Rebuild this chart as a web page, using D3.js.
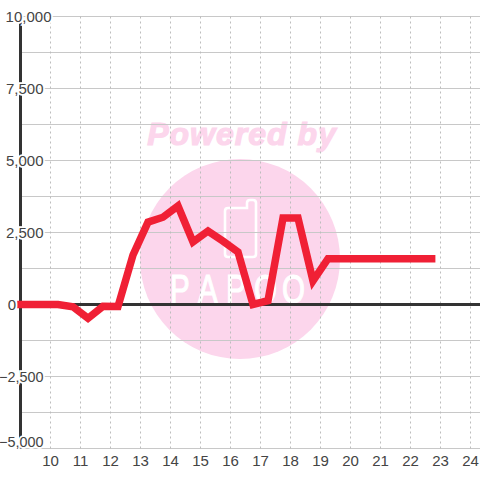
<!DOCTYPE html>
<html><head><meta charset="utf-8">
<style>html,body{margin:0;padding:0;background:#fff}svg{display:block}text{font-family:"Liberation Sans",Arial,sans-serif}</style>
<script src="https://cdn.jsdelivr.net/npm/d3@7/dist/d3.min.js"></script></head>
<body><svg id="c" width="480" height="480"></svg>
<script>
const hours=[8.89,9.25,9.75,10.25,10.75,11.25,11.75,12.25,12.75,13.25,13.75,14.25,14.75,15.25,15.75,16.25,16.75,17.25,17.75,18.25,18.75,19.25,19.75,20.25,20.75,21.25,21.75,22.25,22.83];
const values=[0,0,0,0,-80,-480,-60,-70,1720,2860,3030,3420,2170,2550,2200,1820,0,130,3000,3000,820,1590,1590,1590,1590,1590,1590,1590,1590];
const xTicks=d3.range(10,25);
const yTicks=[10000,7500,5000,2500,0,-2500,-5000];
const yGrid=d3.range(-5000,10001,1250);
const wmTitle="Powered by";
const wmBrand=["P","A","P","O","O"];

const svg=d3.select("#c");
const x=d3.scaleLinear().domain([9,25]).range([20.5,500.5]);
const y=d3.scaleLinear().domain([-5000,10000]).range([448.5,16.5]);
const grey="#c8c8c8",dark="#333",pink="#fcd6ec",red="#f02035";

// watermark
const wm=svg.append("g");
wm.append("circle").attr("cx",240).attr("cy",259).attr("r",100).attr("fill",pink);
wm.append("text").attr("x",242).attr("y",145).attr("text-anchor","middle").attr("font-size",32).attr("font-weight","bold").attr("font-style","italic").attr("letter-spacing",1).attr("fill",pink).attr("stroke",pink).attr("stroke-width",1.2).text(wmTitle);
wm.append("path").attr("d","M228 208H247V203Q247 200 250 200H253Q256 200 256 203V254Q256 257 253 257H228Q225 257 225 254V211Q225 208 228 208Z").attr("fill","none").attr("stroke","#fff").attr("stroke-width",2.6);
wm.selectAll("text.brand").data(wmBrand).join("text").attr("class","brand")
 .attr("transform",(d,i)=>`translate(${170+i*28},303) scale(0.72,1)`)
 .attr("font-size",41).attr("fill","#fff").attr("stroke","#fff").attr("stroke-width",1.2).text(d=>d);

// grid
svg.append("g").selectAll("line").data(yGrid).join("line")
 .attr("x1",20).attr("x2",480).attr("y1",d=>y(d)).attr("y2",d=>y(d)).attr("stroke",grey).attr("stroke-width",1);
svg.append("g").selectAll("line").data(xTicks).join("line")
 .attr("x1",d=>x(d)).attr("x2",d=>x(d)).attr("y1",y(10000)).attr("y2",y(-5000)).attr("stroke","#bdbdbd").attr("stroke-dasharray","2,3");

// axes lines
svg.append("line").attr("x1",20).attr("x2",480).attr("y1",y(0)).attr("y2",y(0)).attr("stroke",dark).attr("stroke-width",3);
svg.append("line").attr("x1",x(9)).attr("x2",x(9)).attr("y1",y(10000)).attr("y2",y(-5000)).attr("stroke",dark).attr("stroke-width",3);

// series
const line=d3.line().x((d,i)=>x(hours[i])).y(d=>y(d));
svg.append("path").datum(values).attr("d",line).attr("fill","none").attr("stroke",red).attr("stroke-width",7.5).attr("stroke-linejoin","miter");

// y labels with halo
const fmt=d3.format(",");
const yRight=d=>d===10000?51.5:d===0?16:43.5;
const yMid=d=>d===-5000?y(d)-7:d===10000?y(d)+0.5:y(d);
svg.append("g").selectAll("text").data(yTicks).join("text")
 .attr("x",yRight).attr("y",yMid).attr("dy","0.35em").attr("text-anchor","end").attr("font-size",d=>d<0?14.4:15)
 .attr("fill","#444").attr("stroke","#fff").attr("stroke-width",3.5).attr("paint-order","stroke").text(fmt);
// x labels
svg.append("g").selectAll("text").data(xTicks).join("text")
 .attr("x",d=>x(d)).attr("y",461).attr("dy","0.35em").attr("text-anchor","middle").attr("font-size",15)
 .attr("fill","#444").text(d=>d);
</script></body></html>
